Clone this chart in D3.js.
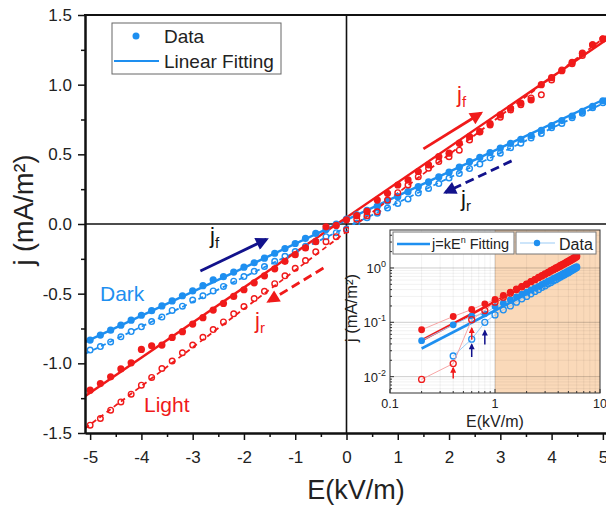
<!DOCTYPE html>
<html>
<head>
<meta charset="utf-8">
<script src="https://cdn.jsdelivr.net/npm/d3@7"></script>
<style>
body { margin: 0; background: #fff; }
text { font-family: "Liberation Sans", Arial, sans-serif; }
</style>
</head>
<body>
<svg width="606" height="505"></svg>
<script>
// ---- main plot data: E (kV/m) vs j (mA/m^2) ----
const fieldE = [-5.0, -4.8, -4.6, -4.4, -4.2, -4.0, -3.8, -3.6, -3.4, -3.2, -3.0, -2.8, -2.6, -2.4, -2.2, -2.0, -1.8, -1.6, -1.4, -1.2, -1.0, -0.8, -0.6, -0.4, -0.2,
                0.0, 0.2, 0.4, 0.6, 0.8, 1.0, 1.2, 1.4, 1.6, 1.8, 2.0, 2.2, 2.4, 2.6, 2.8, 3.0, 3.2, 3.4, 3.6, 3.8, 4.0, 4.2, 4.4, 4.6, 4.8, 5.0];
const darkFwd = [-0.833, -0.797, -0.762, -0.726, -0.690, -0.655, -0.622, -0.588, -0.552, -0.515, -0.480, -0.443, -0.400, -0.378, -0.345, -0.310, -0.278, -0.245, -0.210, -0.176, -0.140, -0.103, -0.067, -0.040, 0.000,
                 0.035, 0.065, 0.098, 0.128, 0.165, 0.196, 0.232, 0.268, 0.302, 0.338, 0.372, 0.408, 0.447, 0.478, 0.512, 0.545, 0.578, 0.608, 0.635, 0.672, 0.706, 0.742, 0.775, 0.808, 0.845, 0.884];
const darkRev = [-0.905, -0.880, -0.846, -0.810, -0.772, -0.738, -0.700, -0.668, -0.620, -0.590, -0.546, -0.515, -0.480, -0.448, -0.410, -0.377, -0.340, -0.305, -0.268, -0.232, -0.198, -0.160, -0.125, -0.091, -0.062,
                 -0.036, 0.005, 0.045, 0.078, 0.115, 0.148, 0.180, 0.222, 0.255, 0.290, 0.330, 0.362, 0.398, 0.430, 0.475, 0.508, 0.548, 0.580, 0.618, 0.650, 0.690, 0.722, 0.762, 0.795, 0.835, 0.870];
const lightFwd = [-1.193, -1.145, -1.097, -1.040, -0.996, -0.900, -0.874, -0.869, -0.814, -0.773, -0.718, -0.672, -0.618, -0.570, -0.520, -0.472, -0.422, -0.372, -0.322, -0.268, -0.220, -0.172, -0.127, -0.020, -0.010,
                  0.030, 0.060, 0.090, 0.172, 0.220, 0.280, 0.316, 0.376, 0.424, 0.483, 0.508, 0.580, 0.627, 0.663, 0.720, 0.783, 0.830, 0.867, 0.890, 1.000, 1.050, 1.100, 1.160, 1.226, 1.286, 1.327];
const lightRev = [-1.444, -1.396, -1.336, -1.277, -1.221, -1.157, -1.101, -1.037, -0.984, -0.924, -0.869, -0.813, -0.758, -0.703, -0.645, -0.592, -0.535, -0.483, -0.428, -0.372, -0.318, -0.262, -0.200, -0.127, -0.091,
                  -0.043, 0.034, 0.060, 0.088, 0.172, 0.225, 0.280, 0.340, 0.400, 0.448, 0.483, 0.530, 0.603, 0.660, 0.711, 0.766, 0.819, 0.855, 0.905, 0.927, 1.034, 1.106, 1.150, 1.210, 1.286, 1.330];

// linear fitting (slope, intercept) for darkFwd, darkRev, lightFwd, lightRev
const fitSlope = [0.172, 0.178, 0.2516, 0.277];
const fitIntercept = [0.030, -0.025, 0.047, -0.055];

const yTicks = [-1.5, -1.0, -0.5, 0.0, 0.5, 1.0, 1.5];
const xTicks = [-5, -4, -3, -2, -1, 0, 1, 2, 3, 4, 5];

// ---- inset data: log-log, |E| (kV/m) vs j ----
const insetE = [0.2, 0.4, 0.6, 0.8, 1.0, 1.2, 1.4, 1.6, 1.8, 2.0, 2.2, 2.4, 2.6, 2.8, 3.0, 3.2, 3.4, 3.6, 3.8, 4.0, 4.2, 4.4, 4.6, 4.8, 5.0, 5.2, 5.4, 5.6, 5.8, 6.0];
const insetLightFwd = [0.073, 0.128, 0.172, 0.219, 0.263, 0.312, 0.36, 0.41, 0.46, 0.51, 0.56, 0.61, 0.66, 0.71, 0.76, 0.81, 0.87, 0.92, 0.97, 1.02, 1.07, 1.13, 1.18, 1.24, 1.29, 1.35, 1.40, 1.46, 1.53, 1.60];
const insetLightRev = [0.0089, 0.0174, 0.112, 0.165, 0.235, 0.29, 0.345, 0.40, 0.45, 0.50, 0.56, 0.61, 0.67, 0.72, 0.78, 0.83, 0.89, 0.94, 1.00, 1.05, 1.11, 1.16, 1.22, 1.28, 1.33, 1.39, 1.45, 1.51, 1.58, 1.65];
const insetDarkFwd = [0.046, 0.09, 0.13, 0.143, 0.195, 0.225, 0.26, 0.295, 0.33, 0.36, 0.395, 0.43, 0.46, 0.50, 0.53, 0.57, 0.60, 0.64, 0.67, 0.71, 0.74, 0.78, 0.81, 0.85, 0.88, 0.92, 0.95, 0.99, 1.02, 1.06];
const insetDarkRev = [null, 0.024, 0.049, 0.10, 0.137, 0.17, 0.20, 0.235, 0.27, 0.30, 0.335, 0.37, 0.40, 0.44, 0.47, 0.51, 0.54, 0.58, 0.61, 0.65, 0.68, 0.72, 0.75, 0.79, 0.82, 0.86, 0.90, 0.94, 0.98, 1.02];
// j = k E^n fitting (light, dark)
const powerK = [0.24, 0.165];
const powerN = [1.02, 1.0];
// small arrows in inset: E, from j, to j
const insetArrowE = [0.4, 0.6, 0.6, 0.8];
const insetArrowFrom = [0.0092, 0.048, 0.023, 0.039];
const insetArrowTo = [0.0145, 0.078, 0.039, 0.07];

const blue = "#1e8ff0", red = "#f01a1a", navy = "#12128c";
const svg = d3.select("svg");

const x = d3.scaleLinear().domain([-5.1, 5.1]).range([85, 608]);
const y = d3.scaleLinear().domain([-1.5, 1.5]).range([433, 15]);

// arrow markers
const defs = svg.append("defs");
[["red", red], ["navy", navy]].forEach(([id, c]) => {
  defs.append("marker")
     .attr("id", "arr-" + id)
     .attr("viewBox", "0 0 10 10")
     .attr("refX", 8).attr("refY", 5)
     .attr("markerUnits", "userSpaceOnUse")
     .attr("markerWidth", 15).attr("markerHeight", 13)
     .attr("orient", "auto")
     .append("path").attr("d", "M0,0 L10,5 L0,10 Z").attr("fill", c);
  defs.append("marker")
     .attr("id", "sarr-" + id)
     .attr("viewBox", "0 0 10 10")
     .attr("refX", 8).attr("refY", 5)
     .attr("markerUnits", "userSpaceOnUse")
     .attr("markerWidth", 7).attr("markerHeight", 6)
     .attr("orient", "auto")
     .append("path").attr("d", "M0,0 L10,5 L0,10 Z").attr("fill", c);
});
defs.append("clipPath").attr("id", "plotclip")
   .append("rect").attr("x", 85).attr("y", 15).attr("width", 521).attr("height", 418);

// zero lines
svg.append("line").attr("x1", x(0)).attr("x2", x(0)).attr("y1", 15).attr("y2", 433)
   .attr("stroke", "#111").attr("stroke-width", 1.6);
svg.append("line").attr("x1", 85).attr("x2", 606).attr("y1", y(0)).attr("y2", y(0))
   .attr("stroke", "#111").attr("stroke-width", 1.6);

// fitting lines and data
const series = [
  { vals: darkFwd, color: blue, filled: true },
  { vals: darkRev, color: blue, filled: false },
  { vals: lightFwd, color: red, filled: true },
  { vals: lightRev, color: red, filled: false }
];
const plot = svg.append("g").attr("clip-path", "url(#plotclip)");
series.forEach((s, i) => {
  const ends = x.domain();
  plot.append("line")
     .attr("x1", x(ends[0])).attr("y1", y(fitSlope[i] * ends[0] + fitIntercept[i]))
     .attr("x2", x(ends[1])).attr("y2", y(fitSlope[i] * ends[1] + fitIntercept[i]))
     .attr("stroke", s.color)
     .attr("stroke-width", s.filled ? 2.4 : 1.8)
     .attr("stroke-dasharray", s.filled ? null : "5,4");
});
series.forEach(s => {
  plot.append("g").selectAll("circle")
     .data(fieldE.map((e, k) => [e, s.vals[k]]))
     .join("circle")
     .attr("cx", d => x(d[0])).attr("cy", d => y(d[1]))
     .attr("r", s.filled ? 3.6 : 2.8)
     .attr("fill", s.filled ? s.color : "none")
     .attr("stroke", s.color)
     .attr("stroke-width", s.filled ? 0 : 1.4);
});

// annotation arrows
function arrow(e1, j1, e2, j2, id, color, dashed) {
  svg.append("line")
     .attr("x1", x(e1)).attr("y1", y(j1)).attr("x2", x(e2)).attr("y2", y(j2))
     .attr("stroke", color).attr("stroke-width", 2.8)
     .attr("stroke-dasharray", dashed ? "9,5" : null)
     .attr("marker-end", "url(#arr-" + id + ")");
}
arrow(-2.85, -0.338, -1.56, -0.11, "navy", navy, false);
arrow(1.50, 0.539, 2.62, 0.795, "red", red, false);
arrow(3.22, 0.453, 1.93, 0.227, "navy", navy, true);
arrow(-0.45, -0.316, -1.52, -0.555, "red", red, true);

function jLabel(px, py, sub, color) {
  const t = svg.append("text").attr("x", px).attr("y", py).attr("fill", color).attr("font-size", 22);
  t.append("tspan").text("j");
  t.append("tspan").attr("dy", 5).attr("font-size", 15).text(sub);
}
jLabel(210, 243, "f", "#111");
jLabel(457, 102, "f", red);
jLabel(461, 206, "r", "#111");
jLabel(255, 328, "r", red);

svg.append("text").attr("x", 100).attr("y", 301).attr("fill", blue).attr("font-size", 21).text("Dark");
svg.append("text").attr("x", 144).attr("y", 412).attr("fill", red).attr("font-size", 21).text("Light");

// ---------------- inset ----------------
const ix = d3.scaleLog().domain([0.1, 10]).range([390, 600]);
const iy = d3.scaleLog().domain([0.005, 5]).range([393, 230]);

svg.append("rect").attr("x", 349).attr("y", 225).attr("width", 257).attr("height", 207).attr("fill", "#fff");
svg.append("rect").attr("x", ix(1)).attr("y", 230).attr("width", ix(10) - ix(1)).attr("height", 163).attr("fill", "#fad9b9");

const inset = svg.append("g");
// grid
const minorX = [], minorY = [];
[0.1, 1].forEach(d => { for (let m = 2; m <= 9; m++) minorX.push(d * m); });
[0.001, 0.01, 0.1, 1].forEach(d => { for (let m = 2; m <= 9; m++) if (d * m > 0.005 && d * m < 5) minorY.push(d * m); });
minorX.forEach(v => inset.append("line").attr("x1", ix(v)).attr("x2", ix(v)).attr("y1", 230).attr("y2", 393)
   .attr("stroke", "#000").attr("stroke-opacity", 0.07).attr("stroke-width", 0.8));
minorY.forEach(v => inset.append("line").attr("x1", 390).attr("x2", 600).attr("y1", iy(v)).attr("y2", iy(v))
   .attr("stroke", "#000").attr("stroke-opacity", 0.07).attr("stroke-width", 0.8));
[1].forEach(v => inset.append("line").attr("x1", ix(v)).attr("x2", ix(v)).attr("y1", 230).attr("y2", 393)
   .attr("stroke", "#000").attr("stroke-opacity", 0.2));
[0.01, 0.1, 1].forEach(v => inset.append("line").attr("x1", 390).attr("x2", 600).attr("y1", iy(v)).attr("y2", iy(v))
   .attr("stroke", "#000").attr("stroke-opacity", 0.2));

// power fits
[red, blue].forEach((c, i) => {
  inset.append("line")
     .attr("x1", ix(0.2)).attr("y1", iy(powerK[i] * Math.pow(0.2, powerN[i])))
     .attr("x2", ix(6)).attr("y2", iy(powerK[i] * Math.pow(6, powerN[i])))
     .attr("stroke", c).attr("stroke-width", 2.6);
});

const insetSeries = [
  { vals: insetDarkRev, color: blue, filled: false, lc: "#9ccbf6" },
  { vals: insetDarkFwd, color: blue, filled: true, lc: "#9ccbf6" },
  { vals: insetLightRev, color: red, filled: false, lc: "#f7a5a5" },
  { vals: insetLightFwd, color: red, filled: true, lc: "#f7a5a5" }
];
insetSeries.forEach(s => {
  const pts = insetE.map((e, k) => [e, s.vals[k]]).filter(d => d[1] != null);
  inset.append("path")
     .attr("d", d3.line().x(d => ix(d[0])).y(d => iy(d[1]))(pts))
     .attr("fill", "none").attr("stroke", s.lc).attr("stroke-width", 1);
  inset.append("g").selectAll("circle").data(pts).join("circle")
     .attr("cx", d => ix(d[0])).attr("cy", d => iy(d[1]))
     .attr("r", s.filled ? 3.4 : 3)
     .attr("fill", s.filled ? s.color : "none")
     .attr("stroke", s.color).attr("stroke-width", s.filled ? 0 : 1.3);
});

insetArrowE.forEach((e, k) => {
  const id = k < 2 ? "red" : "navy";
  inset.append("line")
     .attr("x1", ix(e)).attr("y1", iy(insetArrowFrom[k]))
     .attr("x2", ix(e)).attr("y2", iy(insetArrowTo[k]))
     .attr("stroke", k < 2 ? red : navy).attr("stroke-width", 1.5)
     .attr("marker-end", "url(#sarr-" + id + ")");
});

// inset frame + ticks
inset.append("rect").attr("x", 390).attr("y", 230).attr("width", 210).attr("height", 163)
   .attr("fill", "none").attr("stroke", "#333").attr("stroke-width", 1);
[0.1, 1, 10].forEach(v => inset.append("line").attr("x1", ix(v)).attr("x2", ix(v)).attr("y1", 393).attr("y2", 389).attr("stroke", "#333"));
minorX.forEach(v => inset.append("line").attr("x1", ix(v)).attr("x2", ix(v)).attr("y1", 393).attr("y2", 391).attr("stroke", "#333"));
[0.01, 0.1, 1].forEach(v => inset.append("line").attr("x1", 390).attr("x2", 394).attr("y1", iy(v)).attr("y2", iy(v)).attr("stroke", "#333"));
minorY.forEach(v => inset.append("line").attr("x1", 390).attr("x2", 392).attr("y1", iy(v)).attr("y2", iy(v)).attr("stroke", "#333"));

["0.1", "1", "10"].forEach((s, k) => {
  inset.append("text").attr("x", ix([0.1, 1, 10][k])).attr("y", 408)
     .attr("text-anchor", "middle").attr("font-size", 12.5).attr("fill", "#222").text(s);
});
[[1, "0"], [0.1, "-1"], [0.01, "-2"]].forEach(([v, p]) => {
  const t = inset.append("text").attr("x", 386).attr("y", iy(v) + 5)
     .attr("text-anchor", "end").attr("font-size", 13).attr("fill", "#222");
  t.append("tspan").text("10");
  t.append("tspan").attr("dy", -6).attr("font-size", 9).text(p);
});
inset.append("text").attr("x", 495).attr("y", 427).attr("text-anchor", "middle")
   .attr("font-size", 16).attr("fill", "#222").text("E(kV/m)");
inset.append("text").attr("transform", "translate(357,308) rotate(-90)").attr("text-anchor", "middle")
   .attr("font-size", 16.5).attr("fill", "#222").text("j (mA/m²)");

// inset legend
inset.append("rect").attr("x", 393).attr("y", 232).attr("width", 121).attr("height", 22)
   .attr("fill", "#fff").attr("stroke", "#777");
inset.append("line").attr("x1", 397).attr("x2", 430).attr("y1", 244).attr("y2", 244).attr("stroke", blue).attr("stroke-width", 2.5);
const lt = inset.append("text").attr("x", 432).attr("y", 249).attr("font-size", 14.5).attr("fill", "#222");
lt.append("tspan").text("j=kE");
lt.append("tspan").attr("dy", -6).attr("font-size", 9).text("n");
lt.append("tspan").attr("dy", 6).text(" Fitting");
inset.append("rect").attr("x", 516).attr("y", 232).attr("width", 80).attr("height", 22)
   .attr("fill", "#fff").attr("stroke", "#777");
inset.append("line").attr("x1", 520).attr("x2", 555).attr("y1", 243).attr("y2", 243).attr("stroke", "#9ccbf6").attr("stroke-width", 1.2);
inset.append("circle").attr("cx", 537).attr("cy", 243).attr("r", 3.2).attr("fill", blue);
inset.append("text").attr("x", 559).attr("y", 250).attr("font-size", 16).attr("fill", "#222").text("Data");

// ---------------- main axes ----------------
svg.append("g").attr("transform", "translate(85,0)")
   .call(d3.axisLeft(y).tickValues(yTicks).tickFormat(d => d.toFixed(1)).tickSize(7).tickSizeOuter(0).tickPadding(6));
svg.append("g").attr("transform", "translate(85,0)")
   .call(d3.axisLeft(y).tickValues([-1.25, -0.75, -0.25, 0.25, 0.75, 1.25]).tickFormat("").tickSize(4).tickSizeOuter(0));
svg.append("g").attr("transform", "translate(0,433)")
   .call(d3.axisBottom(x).tickValues(xTicks).tickFormat(d => String(d)).tickSize(7).tickSizeOuter(0).tickPadding(11));
svg.append("g").attr("transform", "translate(0,433)")
   .call(d3.axisBottom(x).tickValues([-4.5, -3.5, -2.5, -1.5, -0.5, 0.5, 1.5, 2.5, 3.5, 4.5]).tickFormat("").tickSize(4).tickSizeOuter(0));
svg.selectAll(".domain").attr("stroke", "#111").attr("stroke-width", 2);
svg.selectAll(".tick line").attr("stroke", "#111").attr("stroke-width", 1.5);
svg.selectAll(".tick text").attr("font-size", 17).attr("fill", "#222")
   .attr("font-family", "Liberation Sans, Arial, sans-serif");
svg.append("line").attr("x1", 84).attr("x2", 606).attr("y1", 15).attr("y2", 15)
   .attr("stroke", "#111").attr("stroke-width", 2);

svg.append("text").attr("x", 356).attr("y", 499).attr("text-anchor", "middle")
   .attr("font-size", 27).attr("fill", "#222").text("E(kV/m)");
svg.append("text").attr("transform", "translate(33,210) rotate(-90)").attr("text-anchor", "middle")
   .attr("font-size", 27).attr("fill", "#222").text("j (mA/m²)");

// main legend
svg.append("rect").attr("x", 112).attr("y", 23).attr("width", 169).attr("height", 51)
   .attr("fill", "#fff").attr("stroke", "#666");
svg.append("circle").attr("cx", 136).attr("cy", 36).attr("r", 3.5).attr("fill", blue);
svg.append("text").attr("x", 164).attr("y", 43).attr("font-size", 19).attr("fill", "#222").text("Data");
svg.append("line").attr("x1", 114).attr("x2", 159).attr("y1", 61).attr("y2", 61).attr("stroke", blue).attr("stroke-width", 2);
svg.append("text").attr("x", 164).attr("y", 68).attr("font-size", 19).attr("fill", "#222").text("Linear Fitting");
</script>
</body>
</html>
